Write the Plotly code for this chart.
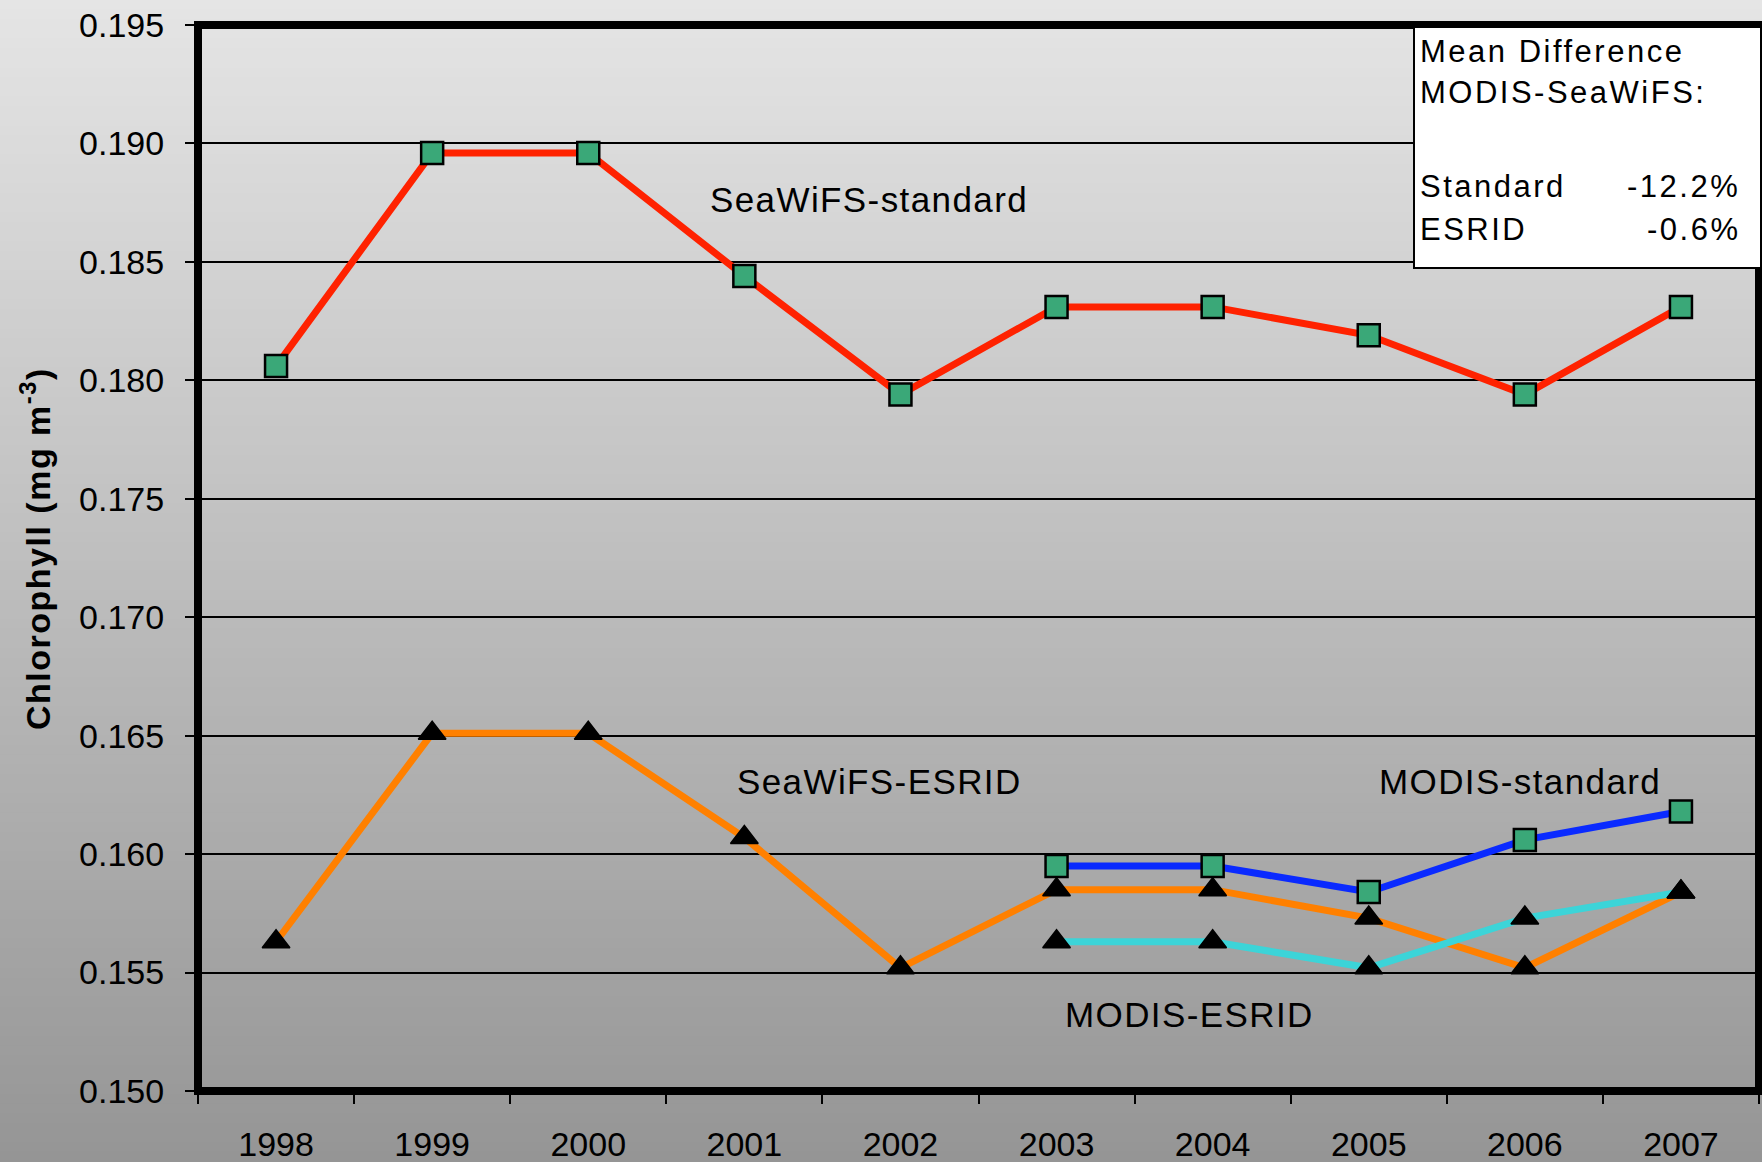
import plotly.graph_objects as go

# ---------------- data ----------------
years = ["1998", "1999", "2000", "2001", "2002", "2003", "2004", "2005", "2006", "2007"]
seawifs_standard = [0.1806, 0.1896, 0.1896, 0.1844, 0.1794, 0.1831, 0.1831, 0.1819, 0.1794, 0.1831]
seawifs_esrid = [0.1563, 0.1651, 0.1651, 0.1607, 0.1552, 0.1585, 0.1585, 0.1573, 0.1552, 0.1584]
modis_standard = [None, None, None, None, None, 0.1595, 0.1595, 0.1584, 0.1606, 0.1618]
modis_esrid = [None, None, None, None, None, 0.1563, 0.1563, 0.1552, 0.1573, 0.1584]

y_ticks = [0.150, 0.155, 0.160, 0.165, 0.170, 0.175, 0.180, 0.185, 0.190, 0.195]

box_lines = ["Mean Difference", "MODIS-SeaWiFS:"]
box_rows = [("Standard", "-12.2%"), ("ESRID", "-0.6%")]

# ---------------- layout geometry ----------------
W, H = 1762, 1162
L, R, T, B = 198, 3, 25, 71
PW, PH = W - L - R, H - T - B


def px(x):
    return (x - L) / PW


def py(y):
    return (H - B - y) / PH


FONT = "Liberation Sans, Arial, sans-serif"

fig = go.Figure()

series = [
    ("SeaWiFS-standard", seawifs_standard, "#ff2200", "square"),
    ("SeaWiFS-ESRID", seawifs_esrid, "#ff8000", "triangle-up"),
    ("MODIS-standard", modis_standard, "#0a2aff", "square"),
    ("MODIS-ESRID", modis_esrid, "#3cd4d8", "triangle-up"),
]

for name, vals, col, sym in series:
    fig.add_trace(go.Scatter(x=years, y=vals, mode="lines", name=name,
                             line=dict(color=col, width=7), showlegend=False,
                             connectgaps=False))

for name, vals, col, sym in series:
    if sym == "square":
        mk = dict(symbol="square", size=22, color="#3aa878",
                  line=dict(color="black", width=2.5))
    else:
        mk = dict(symbol="triangle-up", size=24, color="black",
                  line=dict(color="black", width=1.5))
    fig.add_trace(go.Scatter(x=years, y=vals, mode="markers", name=name,
                             marker=mk, showlegend=False))

# ---------------- background gradient ----------------
shapes = []
N = 120
for i in range(N):
    y0 = i * H / N
    y1 = (i + 1) * H / N
    if i == N - 1:
        y1 += 30
    if i == 0:
        y0 -= 30
    c = int(round(229 - 0.0688 * (i + 0.5) * H / N))
    shapes.append(dict(type="rect", xref="paper", yref="paper",
                       x0=px(-20), x1=px(W + 20), y0=py(y1 + 0.6), y1=py(y0 - 0.6),
                       fillcolor=f"rgb({c},{c},{c})", line=dict(width=0),
                       layer="below"))

# plot frame
shapes.append(dict(type="rect", xref="paper", yref="paper",
                   x0=0, x1=1, y0=0, y1=1, fillcolor="rgba(0,0,0,0)",
                   line=dict(color="black", width=8), layer="above"))

# text box
shapes.append(dict(type="rect", xref="paper", yref="paper",
                   x0=px(1414), x1=px(1761), y0=py(268), y1=py(27),
                   fillcolor="white", line=dict(color="black", width=2),
                   layer="above"))

annotations = []


def label(text, x, y, xanchor="left", size=35):
    annotations.append(dict(text=text, xref="paper", yref="paper",
                            x=px(x), y=py(y), xanchor=xanchor, yanchor="middle",
                            showarrow=False,
                            font=dict(family=FONT, size=size, color="black")))


lsp = '<span style="letter-spacing:1.4px">{}</span>'
label(lsp.format("SeaWiFS-standard"), 708, 199)
label(lsp.format("SeaWiFS-ESRID"), 735, 782)
label(lsp.format("MODIS-standard"), 1377, 782)
label(lsp.format("MODIS-ESRID"), 1063, 1014)

sp = '<span style="letter-spacing:2.5px">{}</span>'
label(sp.format(box_lines[0]), 1418, 51, size=31)
label(sp.format(box_lines[1]), 1418, 92, size=31)
label(sp.format(box_rows[0][0]), 1418, 187, size=31)
label(sp.format(box_rows[1][0]), 1418, 230, size=31)
label(sp.format(box_rows[0][1]), 1742, 187, xanchor="right", size=31)
label(sp.format(box_rows[1][1]), 1742, 230, xanchor="right", size=31)

annotations.append(dict(
    text='<b><span style="letter-spacing:1.5px">Chlorophyll (mg m<sup>-3</sup>)</span></b>',
    xref="paper", yref="paper", x=px(35), y=py(549),
    xanchor="center", yanchor="middle", textangle=-90,
    showarrow=False,
    font=dict(family=FONT, size=34, color="black")))

fig.update_layout(
    width=W, height=H, autosize=False,
    margin=dict(l=L, r=R, t=T, b=B, pad=0, autoexpand=False),
    paper_bgcolor="rgb(160,160,160)",
    plot_bgcolor="rgba(0,0,0,0)",
    shapes=shapes,
    annotations=annotations,
    showlegend=False,
    font=dict(family=FONT, size=34, color="black"),
)

fig.update_xaxes(type="category", categoryorder="array", categoryarray=years,
                 range=[-0.5, 9.5], tickson="boundaries", automargin=False,
                 ticks="outside", ticklen=12, tickwidth=2, tickcolor="black",
                 showline=False, showgrid=False, zeroline=False,
                 tickfont=dict(family=FONT, size=34, color="black"),
                 ticklabelstandoff=30)

fig.update_yaxes(range=[0.150, 0.195], tickvals=y_ticks, automargin=False,
                 ticktext=[f"{v:.3f}" for v in y_ticks],
                 ticks="outside", ticklen=12, tickwidth=2, tickcolor="black",
                 showline=False,
                 showgrid=True, gridcolor="black", gridwidth=2, zeroline=False,
                 tickfont=dict(family=FONT, size=34, color="black"),
                 ticklabelstandoff=14)

fig.write_html(
    "out.html",
    config={"displayModeBar": False},
    post_script="document.body.style.margin='0';document.body.style.overflow='hidden';",
)
